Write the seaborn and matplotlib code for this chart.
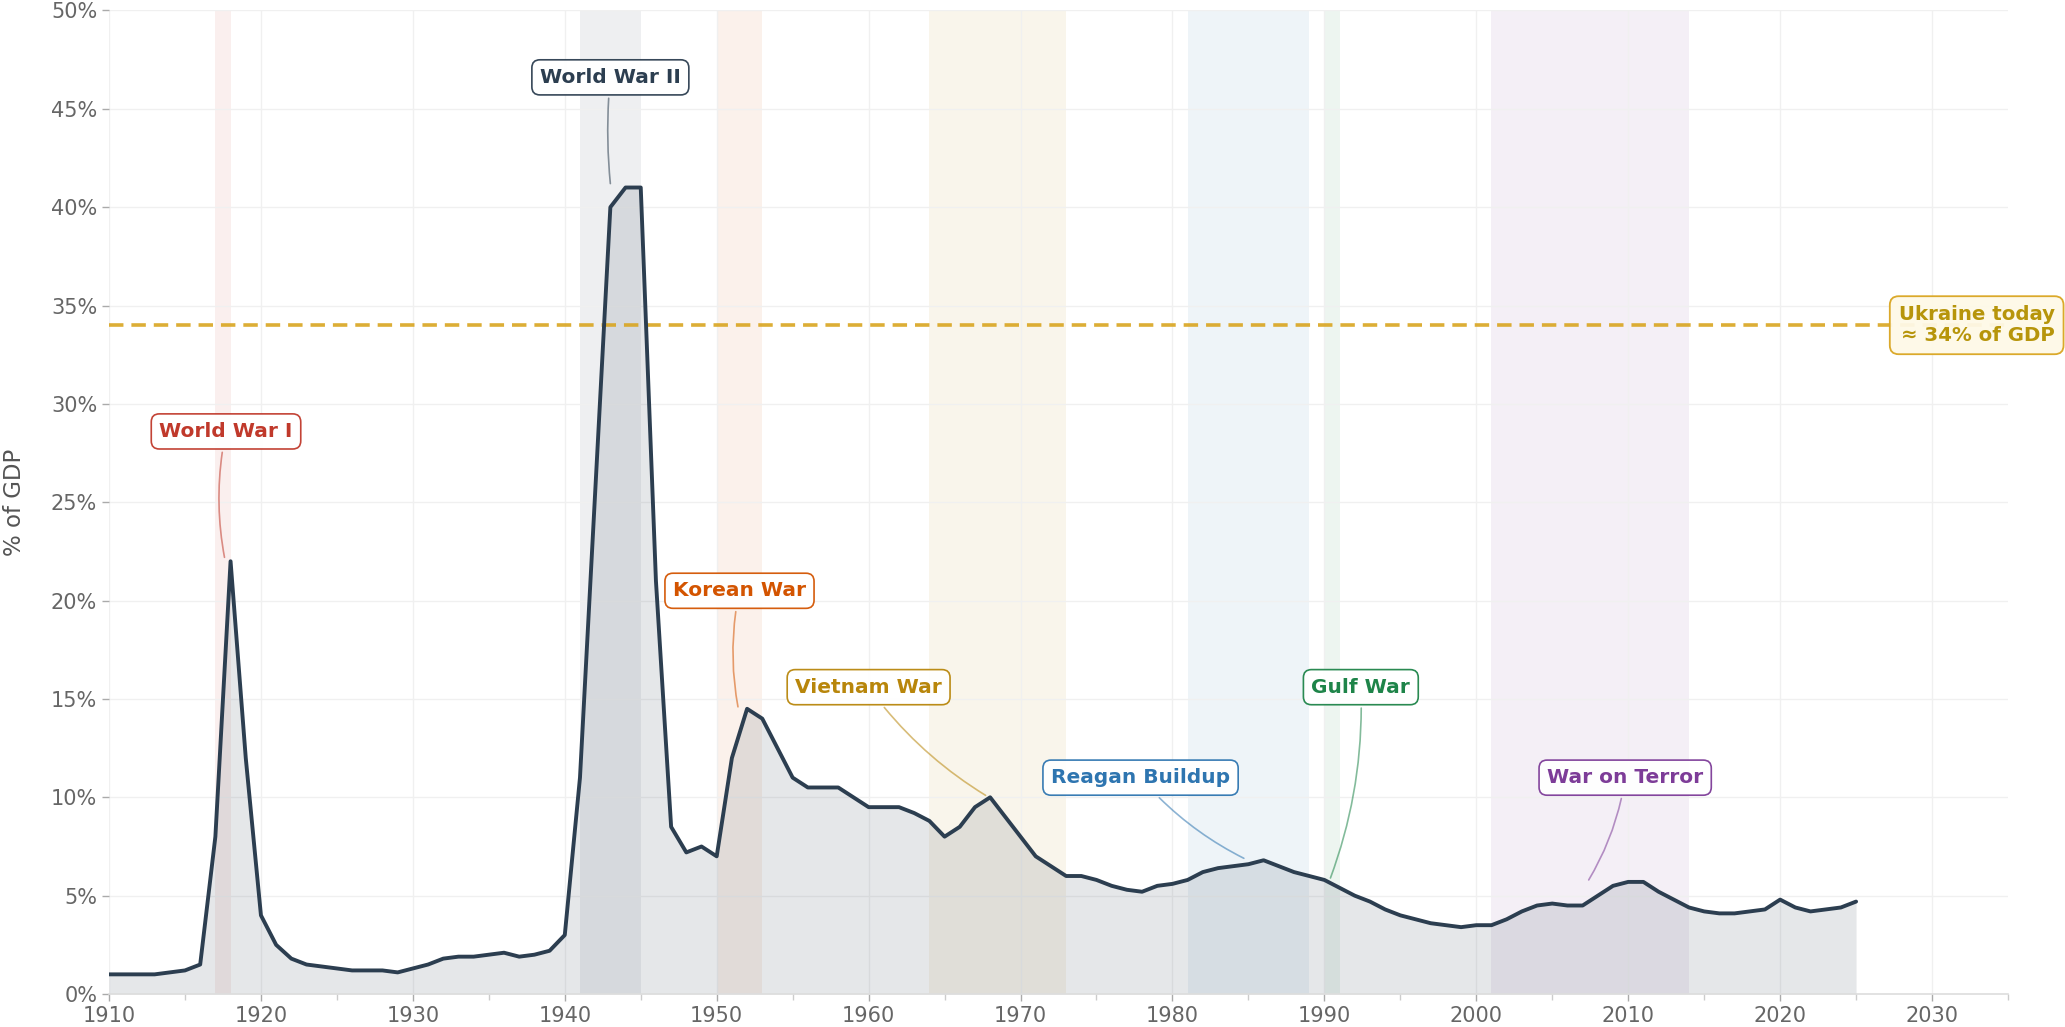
import numpy as np
import pandas as pd
import matplotlib
matplotlib.use("Agg")
import matplotlib.pyplot as plt
import seaborn as sns

# data
years = list(range(1910, 2026))
spending = [
    1.0, 1.0, 1.0, 1.0, 1.1, 1.2, 1.5, 8.0, 22.0, 12.0,      # 1910-1919
    4.0, 2.5, 1.8, 1.5, 1.4, 1.3, 1.2, 1.2, 1.2, 1.1,        # 1920-1929
    1.3, 1.5, 1.8, 1.9, 1.9, 2.0, 2.1, 1.9, 2.0, 2.2,        # 1930-1939
    3.0, 11.0, 25.5, 40.0, 41.0, 41.0, 21.0, 8.5, 7.2, 7.5,  # 1940-1949
    7.0, 12.0, 14.5, 14.0, 12.5, 11.0, 10.5, 10.5, 10.5, 10.0,  # 1950-1959
    9.5, 9.5, 9.5, 9.2, 8.8, 8.0, 8.5, 9.5, 10.0, 9.0,       # 1960-1969
    8.0, 7.0, 6.5, 6.0, 6.0, 5.8, 5.5, 5.3, 5.2, 5.5,        # 1970-1979
    5.6, 5.8, 6.2, 6.4, 6.5, 6.6, 6.8, 6.5, 6.2, 6.0,        # 1980-1989
    5.8, 5.4, 5.0, 4.7, 4.3, 4.0, 3.8, 3.6, 3.5, 3.4,        # 1990-1999
    3.5, 3.5, 3.8, 4.2, 4.5, 4.6, 4.5, 4.5, 5.0, 5.5,        # 2000-2009
    5.7, 5.7, 5.2, 4.8, 4.4, 4.2, 4.1, 4.1, 4.2, 4.3,        # 2010-2019
    4.8, 4.4, 4.2, 4.3, 4.4, 4.7,                            # 2020-2025
]

war_names = ["World War I", "World War II", "Korean War", "Vietnam War",
             "Reagan Buildup", "Gulf War", "War on Terror"]
war_start = [1917, 1941, 1950, 1964, 1981, 1990, 2001]
war_end = [1918, 1945, 1953, 1973, 1989, 1991, 2014]
war_colors = ["#c0392b", "#2c3e50", "#d35400", "#b8860b", "#2e75b0", "#1e8449", "#7d3c98"]
# label position (year, %) and point the leader line goes to
label_x = [1917.7, 1943.0, 1951.5, 1960.0, 1977.9, 1992.4, 2009.8]
label_y = [28.6, 46.6, 20.5, 15.6, 11.0, 15.6, 11.0]
tip_x = [1917.6, 1943.0, 1951.4, 1967.7, 1984.7, 1990.4, 2007.4]
tip_y = [22.2, 41.2, 14.6, 10.1, 6.9, 5.9, 5.8]
arc_rad = [0.1, 0.05, 0.1, 0.1, 0.1, -0.1, -0.1]

ukraine_level = 34

df = pd.DataFrame({"Year": years, "Spending": spending})

sns.set_theme(style="white")
plt.rcParams['font.family'] = ['DejaVu Sans']

fig = plt.figure(figsize=(20.65, 10.27), dpi=100)
ax = fig.add_axes([0.0528, 0.0321, 0.9196, 0.9577])

# war shading
for s, e, c in zip(war_start, war_end, war_colors):
    ax.axvspan(s, e, color=c, alpha=0.08, lw=0, zorder=0)

ax.fill_between(df["Year"], df["Spending"], 0, color="#2c3e50", alpha=0.12, lw=0, zorder=1)
sns.lineplot(data=df, x="Year", y="Spending", color="#2c3e50", linewidth=2.8, ax=ax, zorder=3)

# Ukraine reference line
ax.axhline(ukraine_level, color="#d9a520", linestyle=(0, (4, 2.2)), linewidth=2.6, alpha=0.9, zorder=2)
ax.annotate("Ukraine today\n≈ 34% of GDP", xy=(0.995, ukraine_level), xycoords=("figure fraction", "data"),
            ha="right", va="center", fontsize=14.2, fontweight="bold", color="#b7950b",
            multialignment="right", linespacing=1.15, annotation_clip=False, zorder=6,
            bbox=dict(boxstyle="round,pad=0.45", fc="#fef9e7", ec="#d9a520", lw=1.3, alpha=0.95))

# war labels
for name, c, lx, ly, tx, ty, r in zip(war_names, war_colors, label_x, label_y, tip_x, tip_y, arc_rad):
    ax.annotate(name, xy=(tx, ty), xytext=(lx, ly), ha="center", va="center",
                fontsize=14.5, fontweight="bold", color=c, zorder=7,
                bbox=dict(boxstyle="round,pad=0.4", fc="white", ec=c, lw=1.2, alpha=0.95),
                arrowprops=dict(arrowstyle="-", color=c, alpha=0.55, lw=1.2,
                                connectionstyle=f"arc3,rad={r}", shrinkA=2, shrinkB=0))

ax.set_xlim(1910, 2035)
ax.set_ylim(0, 50)
ax.set_xticks(range(1910, 2031, 10))
ax.set_xticks(range(1915, 2036, 5), minor=True)
ax.set_yticks(range(0, 51, 5))
ax.set_yticklabels([f"{v}%" for v in range(0, 51, 5)])
ax.set_xlabel("")
ax.set_ylabel("% of GDP", fontsize=16.5, color="#555555", labelpad=18)

ax.grid(True, which="major", color="#f0f0f0", linewidth=1.0)
ax.tick_params(axis="both", which="major", labelsize=15, labelcolor="#666666", color="#aaaaaa",
               length=5, width=1, bottom=True, left=True)
ax.tick_params(axis="x", which="minor", color="#cccccc", length=4, width=1, bottom=True)
for side in ["top", "right", "left"]:
    ax.spines[side].set_visible(False)
ax.spines["bottom"].set_color("#dddddd")
ax.spines["bottom"].set_linewidth(1.2)

fig.savefig("out.png", dpi=100)
